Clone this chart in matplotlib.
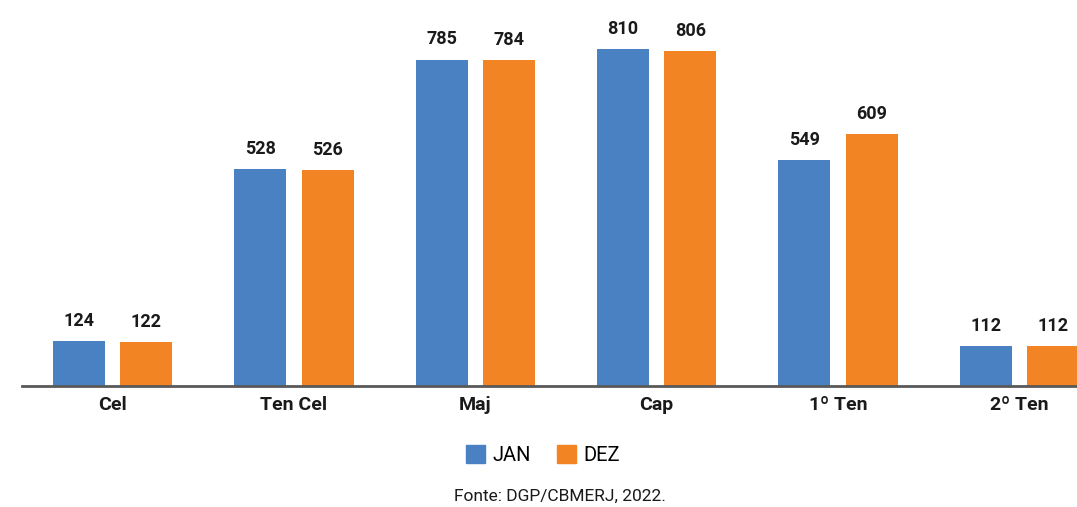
import matplotlib
matplotlib.use("Agg")
import matplotlib.pyplot as plt
from matplotlib.patches import Patch
import numpy as np

plt.rcParams['font.family'] = ['Roboto', 'DejaVu Sans']

categories = ['Cel', 'Ten Cel', 'Maj', 'Cap', '1º Ten', '2º Ten']
jan = [124, 528, 785, 810, 549, 112]
dez = [122, 526, 784, 806, 609, 112]

blue = '#4A81C2'
orange = '#F38423'

fig = plt.figure(figsize=(10.77, 5.07), dpi=100)
# the plot runs past the right edge, as in the reference
ax = fig.add_axes([22 / 1077, 1 - 386 / 507, 1088 / 1077, 386 / 507])

x = np.arange(len(categories))
w = 0.287
off = (w + 0.083) / 2
b1 = ax.bar(x - off, jan, w, color=blue)
b2 = ax.bar(x + off, dez, w, color=orange)

for bars, vals in ((b1, jan), (b2, dez)):
    for r, v in zip(bars, vals):
        ax.annotate(str(v), (r.get_x() + r.get_width() / 2, v), xytext=(0, 8),
                    textcoords='offset points', ha='center', va='bottom',
                    fontsize=13, fontweight='bold', color='#1a1a1a')

ax.set_xlim(-0.5, len(categories) - 0.5)
ax.set_ylim(18, 925)
ax.set_xticks(x)
ax.set_xticklabels(categories, fontsize=14, fontweight='bold', color='#1a1a1a')
ax.tick_params(axis='x', length=0, pad=7)
ax.set_yticks([])
for s in ('top', 'right', 'left'):
    ax.spines[s].set_visible(False)
ax.spines['bottom'].set_color('#595959')
ax.spines['bottom'].set_linewidth(2)

handles = [Patch(color=blue, label='JAN'), Patch(color=orange, label='DEZ')]
fig.legend(handles=handles, loc='center', bbox_to_anchor=(543 / 1077, 1 - 455 / 507),
           ncol=2, frameon=False, fontsize=14.5, handlelength=0.95, handleheight=0.95,
           handletextpad=0.35, columnspacing=1.3)

fig.text(560 / 1077, 1 - 496 / 507, 'Fonte: DGP/CBMERJ, 2022.', ha='center', va='center',
         fontsize=12.5, color='#1a1a1a')

fig.savefig('out.png', dpi=100)
